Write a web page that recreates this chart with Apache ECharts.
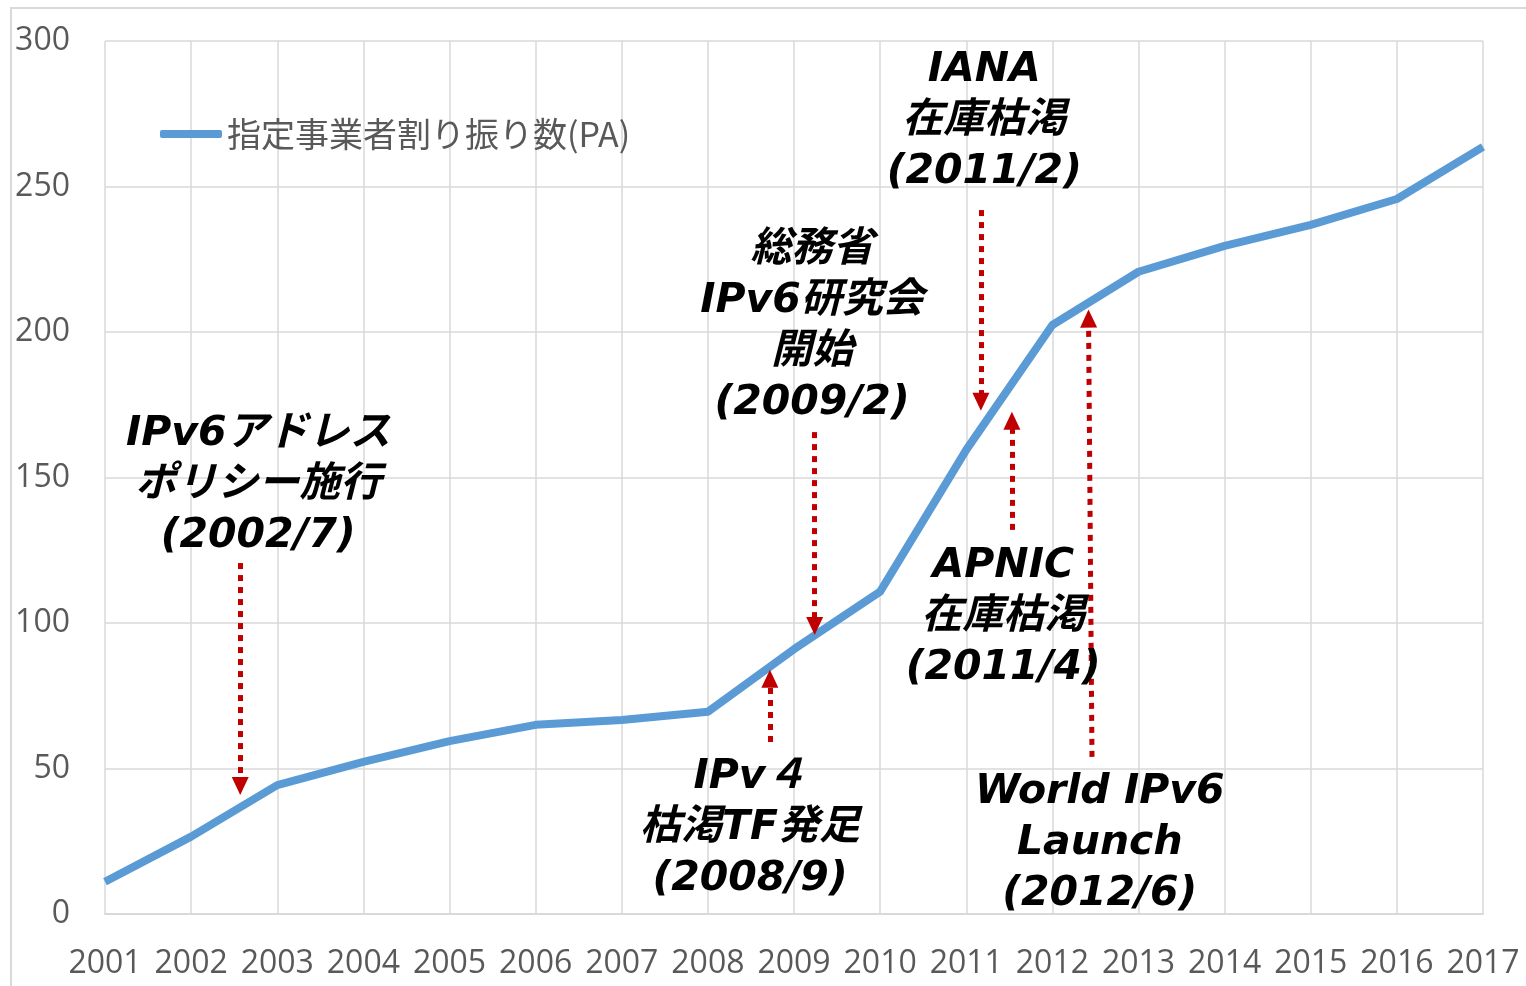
<!DOCTYPE html>
<html>
<head>
<meta charset="utf-8">
<script src="https://cdn.jsdelivr.net/npm/echarts@6/dist/echarts.min.js"></script>
<style>
  html, body { margin: 0; padding: 0; background: #ffffff; }
  #main { width: 1526px; height: 986px; }
</style>
</head>
<body>
<div id="main"></div>
<script>
// 年
var years = [2001, 2002, 2003, 2004, 2005, 2006, 2007, 2008, 2009, 2010, 2011, 2012, 2013, 2014, 2015, 2016, 2017];
// 指定事業者割り振り数(PA)
var counts = [11.1, 26.6, 44.3, 52.3, 59.4, 65.0, 66.7, 69.5, 91.0, 110.8, 159.5, 202.4, 220.7, 229.6, 236.8, 245.7, 263.6];
var seriesName = '指定事業者割り振り数(PA)';

// 注記テキスト [x(年), y(件数), テキスト]
var notes = [
  [2002.78, 147.4, 'IPv6アドレス\nポリシー施行\n(2002/7)'],
  [2009.21, 201.9, '総務省\nIPv6研究会\n開始\n(2009/2)'],
  [2011.21, 272.5, 'IANA\n在庫枯渇\n(2011/2)'],
  [2011.43, 102.0, 'APNIC\n在庫枯渇\n(2011/4)'],
  [2008.49, 29.5, 'IPv４\n枯渇TF発足\n(2008/9)'],
  [2012.55, 24.4, 'World IPv6\nLaunch\n(2012/6)']
];
// 矢印 [x開始, y開始, x終了, y終了]
var arrows = [
  [2002.57, 120.6, 2002.57, 44.0],
  [2009.24, 165.6, 2009.24, 99.0],
  [2011.17, 241.9, 2011.17, 176.0],
  [2011.53, 132.0, 2011.53, 169.5],
  [2008.72, 59.1, 2008.72, 80.8],
  [2012.46, 54.0, 2012.42, 204.6]
];

var myChart = echarts.init(document.getElementById('main'));

var lineData = years.map(function (y, i) { return [y, counts[i]]; });

var axisFont = { color: '#595959', fontSize: 32, fontFamily: 'Open Sans, Noto Sans, sans-serif' };

myChart.setOption({
  backgroundColor: '#ffffff',
  animation: false,
  graphic: [{
    type: 'rect',
    shape: { x: 11, y: 8, width: 1530, height: 990 },
    style: { fill: 'none', stroke: '#d9d9d9', lineWidth: 2 },
    silent: true
  }],
  grid: { left: 105, right: 43, top: 41, bottom: 72 },
  legend: {
    left: 160,
    top: 117,
    padding: 0,
    icon: 'roundRect',
    itemWidth: 62,
    itemHeight: 8,
    textStyle: { color: '#595959', fontSize: 34, fontFamily: 'Noto Sans CJK JP, sans-serif' },
    data: [seriesName]
  },
  xAxis: {
    type: 'value',
    min: 2001,
    max: 2017,
    interval: 1,
    axisLine: { lineStyle: { color: '#d9d9d9', width: 2 } },
    axisTick: { show: false },
    axisLabel: Object.assign({ margin: 34, formatter: function (v) { return String(v); } }, axisFont),
    splitLine: { show: true, lineStyle: { color: '#d9d9d9', width: 1.5 } }
  },
  yAxis: {
    type: 'value',
    min: 0,
    max: 300,
    interval: 50,
    axisLine: { show: false },
    axisTick: { show: false },
    axisLabel: Object.assign({ margin: 35 }, axisFont),
    splitLine: { show: true, lineStyle: { color: '#d9d9d9', width: 1.5 } }
  },
  series: [{
    name: seriesName,
    type: 'line',
    data: lineData,
    showSymbol: false,
    symbol: 'none',
    lineStyle: { color: '#5b9bd5', width: 8, join: 'round' },
    itemStyle: { color: '#5b9bd5' },
    markLine: {
      silent: true,
      symbol: ['none', 'triangle'],
      symbolSize: [17, 18],
      label: { show: false },
      lineStyle: { color: '#c00000', width: 5, type: [6, 6], opacity: 1 },
      itemStyle: { color: '#c00000' },
      data: arrows.map(function (a) {
        return [{ coord: [a[0], a[1]] }, { coord: [a[2], a[3]] }];
      })
    },
    markPoint: {
      silent: true,
      symbol: 'circle',
      symbolSize: 0,
      label: {
        show: true,
        position: 'inside',
        formatter: '{b}',
        color: '#000000',
        fontSize: 41,
        lineHeight: 51,
        fontWeight: 'bold',
        fontStyle: 'italic',
        align: 'center',
        fontFamily: 'DejaVu Sans, Noto Sans CJK JP, sans-serif'
      },
      data: notes.map(function (n) {
        return { name: n[2], coord: [n[0], n[1]] };
      })
    }
  }]
});
</script>
</body>
</html>
